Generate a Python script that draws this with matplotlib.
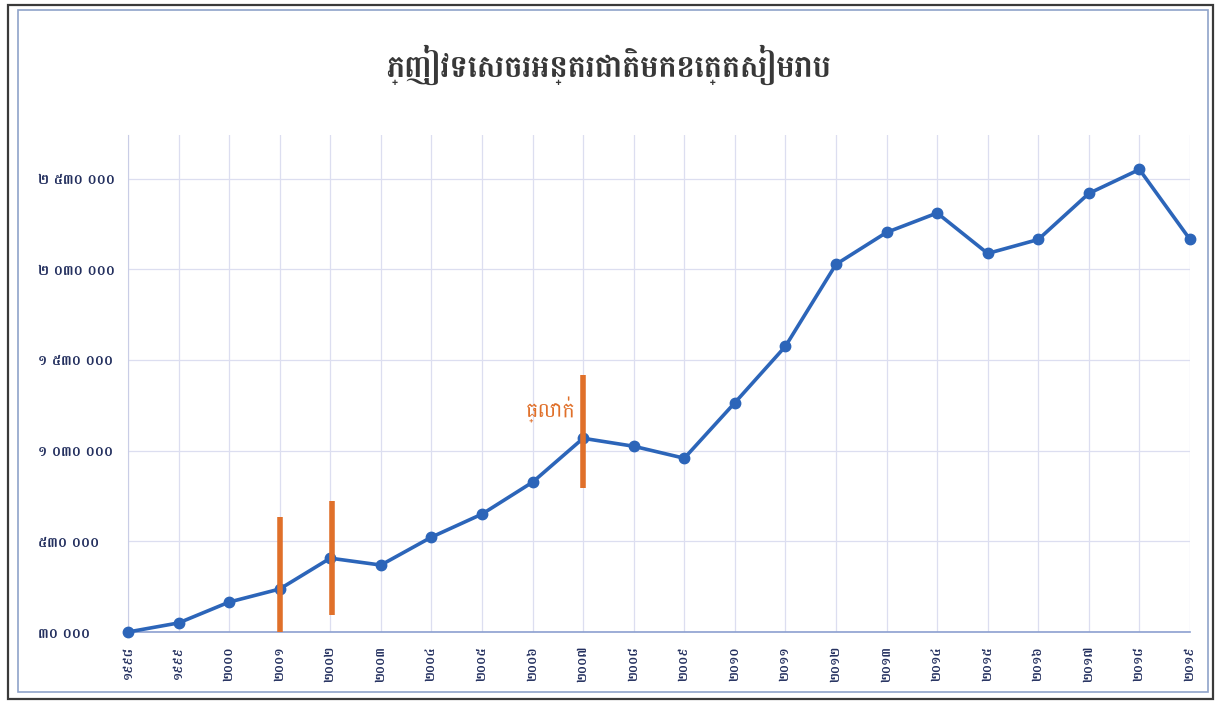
import matplotlib
matplotlib.use("Agg")
import matplotlib.pyplot as plt
from matplotlib import font_manager as fm
from matplotlib.patches import Rectangle


# Pick an installed Khmer font, preferring Battambang
def find_khmer_font(preferred=("Battambang", "Kantumruy Pro", "Hanuman", "Khmer")):
    found = []
    for entry in fm.fontManager.ttflist:
        try:
            if fm.get_font(entry.fname).get_char_index(0x1780):
                found.append(entry.name)
        except Exception:
            continue
    for name in preferred:
        if name in found:
            return name
    return found[0] if found else None


KHMER_FONT = find_khmer_font()
families = [KHMER_FONT, "DejaVu Sans"] if KHMER_FONT else ["DejaVu Sans"]
plt.rcParams["font.family"] = families

# Data: international tourists to Siem Reap
years = list(range(1998, 2020))
year_labels = ["១៩៩៨", "១៩៩៩", "២០០០", "២០០១", "២០០២", "២០០៣", "២០០៤", "២០០៥",
               "២០០៦", "២០០៧", "២០០៨", "២០០៩", "២០១០", "២០១១", "២០១២", "២០១៣",
               "២០១៤", "២០១៥", "២០១៦", "២០១៧", "២០១៨", "២០១៩"]
visitors = [30000, 80000, 195000, 267000, 437000, 399000, 553000, 680000,
            856000, 1098000, 1054000, 988000, 1294000, 1605000, 2057000, 2233000,
            2340000, 2117000, 2194000, 2448000, 2580000, 2194000]

y_ticks = [30000, 530000, 1030000, 1530000, 2030000, 2530000]
y_tick_labels = ["៣០ ០០០", "៥៣០ ០០០", "១ ០៣០ ០០០", "១ ៥៣០ ០០០", "២ ០៣០ ០០០", "២ ៥៣០ ០០០"]

# Orange "drop" markers: (year, low, high)
drop_marks = [(2001, 30000, 663000), (2002.04, 124000, 751000), (2007, 823000, 1445000)]
drop_text = "ធ្លាក់"
title = "ភ្ញៀវទេសចរអន្តរជាតិមកខេត្តសៀមរាប"

W, H = 1218, 709
fig = plt.figure(figsize=(W / 100, H / 100), dpi=100)

# Double frame around the chart
fig.patches.append(Rectangle((8 / W, 1 - 699 / H), (1213 - 8) / W, (699 - 5) / H,
                             transform=fig.transFigure, fill=False, ec="#3a3a3a", lw=1.6))
fig.patches.append(Rectangle((18 / W, 1 - 692 / H), (1208 - 18) / W, (692 - 10) / H,
                             transform=fig.transFigure, fill=False, ec="#8fa3c9", lw=1.2))

ax = fig.add_axes([128 / W, 1 - 632 / H, (1190 - 128) / W, (632 - 135) / H])

ax.plot(years, visitors, color="#2c65b9", lw=2.6, marker="o", markersize=7.5,
        clip_on=False, zorder=3)

for x, lo, hi in drop_marks:
    ax.plot([x, x], [lo, hi], color="#e0702a", lw=4, solid_capstyle="butt", zorder=4, clip_on=False)

ax.text(2006.35, 1252000, drop_text, color="#e0702a", fontsize=15, style="italic",
        ha="center", va="center")

ax.set_xlim(1998, 2019)
ax.set_ylim(30000, 2770000)
ax.set_xticks(years)
ax.set_xticklabels(year_labels, rotation=90, fontsize=9, color="#24305f", fontweight="bold")
ax.set_yticks(y_ticks)
ax.set_yticklabels(y_tick_labels, fontsize=10, color="#24305f", ha="left", fontweight="bold")
ax.tick_params(axis="y", length=0, pad=65)
ax.tick_params(axis="x", length=0, pad=10)

ax.grid(True, color="#dcdef0", lw=0.9)
ax.set_axisbelow(True)
for side in ["top", "right"]:
    ax.spines[side].set_visible(False)
ax.spines["left"].set_color("#c9cde6")
ax.spines["bottom"].set_color("#8c9fd0")
ax.spines["bottom"].set_linewidth(1.2)

fig.text(0.5, 1 - 65 / H, title, ha="center", va="center", fontsize=22,
         fontweight="bold", color="#383838")

fig.savefig("out.png", dpi=100)
